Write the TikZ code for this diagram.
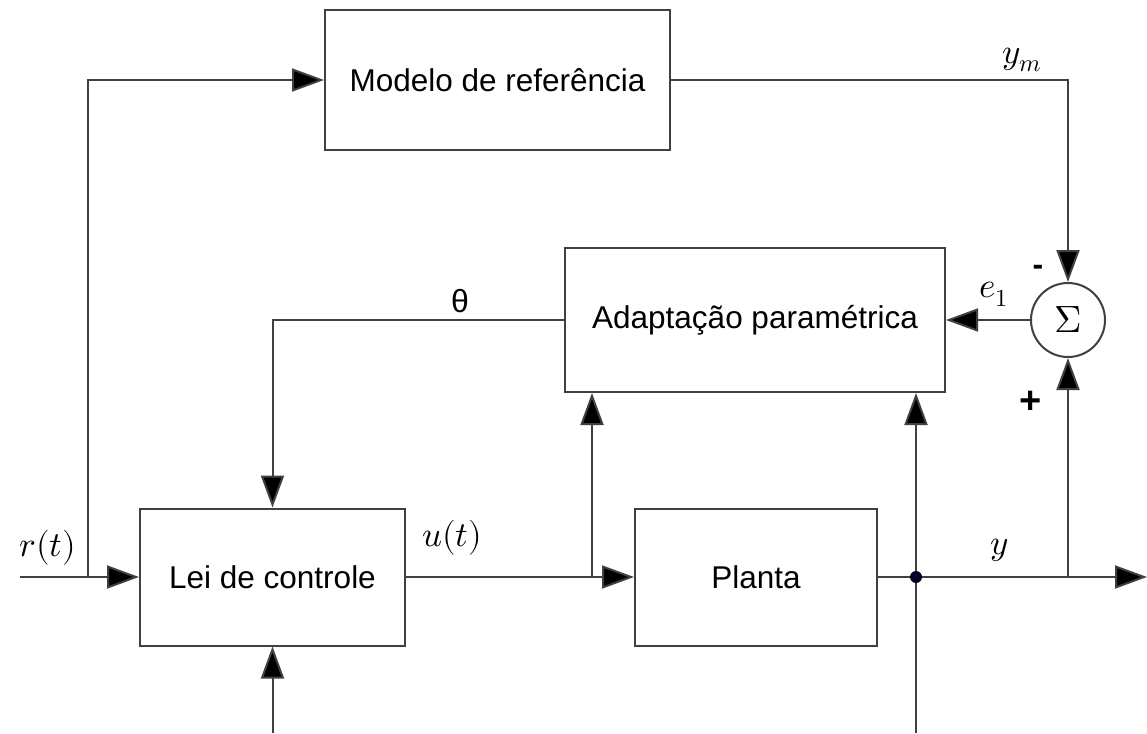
\documentclass[tikz,border=0pt]{standalone}
\usepackage{fontspec}
\setmainfont{Liberation Sans}
\usepackage{unicode-math}
\setmathfont{Latin Modern Math}
\usetikzlibrary{arrows.meta}
\begin{document}
\begin{tikzpicture}[x=1pt,y=-1pt,
  line/.style={draw=black!75, line width=2pt},
  arr/.style={line, -{Triangle[length=32pt,width=23pt,fill=black]}},
  blk/.style={draw=black!75, line width=2pt, inner sep=0pt, font=\fontsize{31.5}{36}\selectfont},
  lbl/.style={inner sep=0pt, font=\fontsize{32}{36}\selectfont},
  mlbl/.style={inner sep=0pt, font=\fontsize{35}{40}\selectfont}]
\useasboundingbox (0,0) rectangle (1147,733);
\node[blk, minimum width=345pt, minimum height=140pt] (mod) at (497.5,80) {Modelo de referência};
\node[blk, minimum width=380pt, minimum height=144pt] (adap) at (755,320) {Adaptação paramétrica};
\node[blk, minimum width=265pt, minimum height=137pt] (lei) at (272.5,577) {Lei de controle};
\node[blk, minimum width=242pt, minimum height=137pt] (planta) at (756,577) {Planta};
\node[blk, circle, minimum size=74pt, font=\fontsize{38}{40}\selectfont] (sum) at (1068,320) {$\Sigma$};
\coordinate (rin) at (20,577);
\coordinate (br1) at (88,577);
\coordinate (bu) at (592,577);
\coordinate (dot) at (916,577);
\coordinate (by) at (1068,577);
\coordinate (out) at (1147,577);
\coordinate (bot1) at (272.5,733);
\coordinate (bot2) at (916,733);
\draw[arr] (rin) -- (lei.west);
\draw[arr] (br1) |- (mod.west);
\draw[arr] (mod.east) -| (sum.north);
\draw[arr] (sum.west) -- (adap.east);
\draw[arr] (adap.west) -| (lei.north);
\draw[arr] (lei.east) -- (planta.west);
\draw[arr] (bu) -- (bu |- adap.south);
\draw[arr] (planta.east) -- (out);
\draw[arr] (bot2) -- (bot2 |- adap.south);
\draw[arr] (by) -- (sum.south);
\draw[arr] (bot1) -- (lei.south);
\fill[black!85!blue] (dot) circle (6pt);
\node[mlbl] (lym) at (1022,60) {$y_m$};
\node[mlbl] (le1) at (994,294) {$e_1$};
\node[lbl] (lminus) at (1038,270) {\textbf{-}};
\node[lbl, font=\fontsize{38}{40}\selectfont] (lplus) at (1031,402) {\textbf{+}};
\node[lbl] (lth) at (460,301) {θ};
\node[mlbl] (lu) at (452,538) {$u(t)$};
\node[mlbl] (lr) at (48,548) {$r(t)$};
\node[mlbl] (ly) at (1000,550) {$y$};
\end{tikzpicture}
\end{document}
